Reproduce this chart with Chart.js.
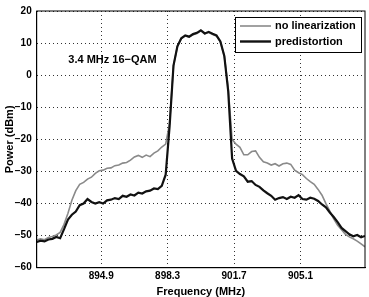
<!DOCTYPE html>
<html>
<head>
<meta charset="utf-8">
<script src="https://cdn.jsdelivr.net/npm/chart.js@4.4.1/dist/chart.umd.min.js"></script>
<style>
  body { margin: 0; background: #fff; }
  #wrap { width: 369px; height: 297px; }
</style>
</head>
<body>
<div id="wrap"><canvas id="spectrum"></canvas></div>
<script>
// frequency grid (MHz)
const freq = [
  891.6, 891.8, 892.0, 892.2, 892.4, 892.6, 892.8, 893.0, 893.2, 893.4,
  893.6, 893.8, 894.0, 894.2, 894.4, 894.6, 894.8, 895.0, 895.2, 895.4,
  895.6, 895.8, 896.0, 896.2, 896.4, 896.6, 896.8, 897.0, 897.2, 897.4,
  897.6, 897.8, 898.0, 898.2, 898.4, 898.6, 898.8, 899.0, 899.2, 899.4,
  899.6, 899.8, 900.0, 900.2, 900.4, 900.6, 900.8, 901.0, 901.2, 901.4,
  901.6, 901.8, 902.0, 902.2, 902.4, 902.6, 902.8, 903.0, 903.2, 903.4,
  903.6, 903.8, 904.0, 904.2, 904.4, 904.6, 904.8, 905.0, 905.2, 905.4,
  905.6, 905.8, 906.0, 906.2, 906.4, 906.6, 906.8, 907.0, 907.2, 907.4,
  907.6, 907.8, 908.0, 908.2, 908.4
];

// power with predistortion (dBm)
const predistortion = [
  -52.0, -51.6, -51.8, -51.2, -51.0, -50.4, -50.8, -48.0, -45.0, -43.5,
  -42.5, -40.5, -40.0, -38.6, -39.5, -40.0, -39.6, -40.0, -39.0, -38.8,
  -38.3, -38.6, -37.6, -37.9, -37.2, -37.5, -36.6, -36.9, -36.2, -36.0,
  -35.3, -35.5, -34.5, -31.0, -16.0, 3.0, 9.0, 11.5, 12.4, 12.0,
  12.8, 13.2, 14.0, 13.0, 13.5, 12.9, 12.4, 10.5, 6.0, -5.0,
  -26.0, -29.8, -30.8, -31.5, -33.2, -33.0, -34.2, -34.8, -35.9, -36.8,
  -37.6, -38.8, -38.3, -38.0, -38.6, -37.9, -38.2, -37.4, -38.6, -38.8,
  -38.2, -38.5, -39.2, -40.3, -41.2, -42.8, -44.2, -45.8, -47.6, -48.6,
  -49.6, -50.2, -49.8, -50.5, -50.1
];

// power without linearization (dBm)
const noLinearization = [
  -51.4, -51.0, -51.3, -50.6, -50.3, -49.8, -49.0, -46.5, -43.0, -39.0,
  -36.0, -34.0, -33.4, -32.4, -31.8, -30.6, -29.8, -29.6, -29.0, -28.9,
  -28.2, -28.0, -27.4, -27.2, -26.5, -25.5, -25.0, -25.6, -24.9, -25.4,
  -24.3, -23.6, -22.4, -21.5, -15.0, 3.0, 9.0, 11.5, 12.2, 11.9,
  12.6, 13.0, 13.8, 12.9, 13.3, 12.7, 12.2, 10.3, 6.0, -4.0,
  -20.0, -21.5, -22.5, -24.8, -24.8, -23.8, -23.6, -25.6, -27.0, -27.4,
  -28.0, -27.6, -28.3, -27.6, -27.4, -27.8, -29.6, -30.4, -31.0, -32.2,
  -33.2, -34.0, -35.6, -37.4, -40.0, -42.4, -44.8, -46.8, -48.2, -49.6,
  -50.4, -51.0, -51.7, -52.6, -53.5
];

const xTicks = [894.9, 898.3, 901.7, 905.1];
const yTicks = [-60, -50, -40, -30, -20, -10, 0, 10, 20];
const seriesNames = ["no linearization", "predistortion"];
const noteText = "3.4 MHz 16\u2212QAM";

const FONT = "'Liberation Sans', Arial, sans-serif";

function toPoints(values) {
  return freq.map((f, i) => ({ x: f, y: values[i] }));
}

// frame, legend box and the modulation note
const extras = {
  id: "extras",
  afterDraw(chart) {
    const ctx = chart.ctx;
    const a = chart.chartArea;
    ctx.save();
    ctx.strokeStyle = "#000";
    ctx.lineWidth = 1;
    ctx.strokeRect(a.left, a.top, a.right - a.left, a.bottom - a.top);

    // legend
    const lx = a.right - 130, ly = a.top + 6, lw = 126, lh = 35;
    ctx.fillStyle = "#fff";
    ctx.fillRect(lx, ly, lw, lh);
    ctx.strokeRect(lx + 0.5, ly + 0.5, lw, lh);
    const rows = [
      { color: "#8a8a8a", width: 1.6, y: ly + 9 },
      { color: "#111", width: 2.4, y: ly + 24.5 }
    ];
    ctx.font = "bold 11px " + FONT;
    ctx.textBaseline = "middle";
    rows.forEach((r, i) => {
      ctx.beginPath();
      ctx.strokeStyle = r.color;
      ctx.lineWidth = r.width;
      ctx.moveTo(lx + 5, r.y);
      ctx.lineTo(lx + 36, r.y);
      ctx.stroke();
      ctx.fillStyle = "#000";
      ctx.fillText(seriesNames[i], lx + 40, r.y);
    });

    // note
    const xs = chart.scales.x, ys = chart.scales.y;
    ctx.textAlign = "center";
    ctx.fillText(noteText, xs.getPixelForValue(895.48), ys.getPixelForValue(4.6));
    ctx.restore();
  }
};

new Chart(document.getElementById("spectrum"), {
  type: "line",
  data: {
    datasets: [
      {
        label: seriesNames[1],
        data: toPoints(predistortion),
        borderColor: "#111",
        borderWidth: 2.2,
        pointRadius: 0,
        tension: 0
      },
      {
        label: seriesNames[0],
        data: toPoints(noLinearization),
        borderColor: "#8a8a8a",
        borderWidth: 1.6,
        pointRadius: 0,
        tension: 0
      }
    ]
  },
  options: {
    responsive: true,
    maintainAspectRatio: false,
    animation: false,
    layout: { padding: { left: 0, right: 4, top: 7, bottom: 0 } },
    plugins: { legend: { display: false }, tooltip: { enabled: false } },
    scales: {
      x: {
        type: "linear",
        min: 891.6,
        max: 908.4,
        afterBuildTicks: s => { s.ticks = xTicks.map(v => ({ value: v })); },
        afterFit: s => { s.height = 29.3; },
        ticks: {
          color: "#000",
          font: { family: FONT, size: 10, weight: "bold" },
          padding: 3,
          maxRotation: 0,
          callback: v => v.toFixed(1)
        },
        grid: { color: "#333", drawTicks: false },
        border: { display: true, color: "#000", dash: [1, 3] },
        title: {
          display: true,
          text: "Frequency (MHz)",
          color: "#000",
          font: { family: FONT, size: 11, weight: "bold", lineHeight: 1 },
          padding: 0
        }
      },
      y: {
        min: -60,
        max: 20,
        afterBuildTicks: s => { s.ticks = yTicks.map(v => ({ value: v })); },
        afterFit: s => { s.width = 36.7; },
        ticks: {
          color: "#000",
          font: { family: FONT, size: 10, weight: "bold" },
          padding: 5,
          callback: v => (v < 0 ? "\u2212" + Math.abs(v) : String(v))
        },
        grid: { color: "#333", drawTicks: false },
        border: { display: true, color: "#000", dash: [1, 3] },
        title: {
          display: true,
          text: "Power (dBm)",
          color: "#000",
          font: { family: FONT, size: 11, weight: "bold", lineHeight: 1 },
          padding: { top: 4, bottom: 0 }
        }
      }
    }
  },
  plugins: [extras]
});
</script>
</body>
</html>
